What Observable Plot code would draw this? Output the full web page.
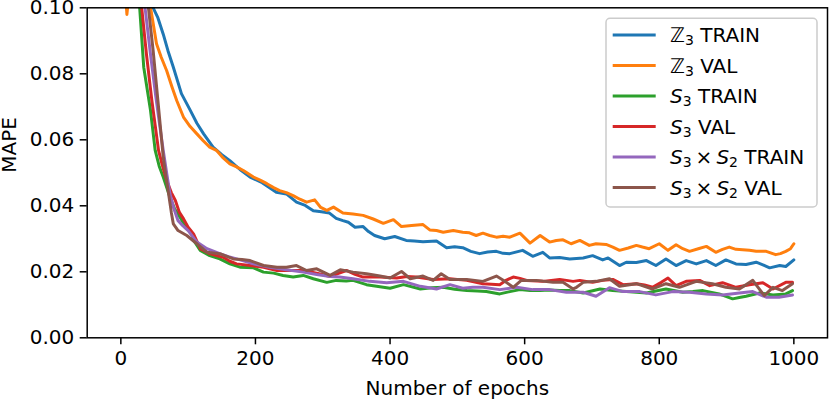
<!DOCTYPE html>
<html><head><meta charset="utf-8">
<script src="https://cdn.jsdelivr.net/npm/d3@7"></script>
<script src="https://cdn.jsdelivr.net/npm/@observablehq/plot@0.6"></script>
<style>body{margin:0;background:#fff;} svg{font-family:"DejaVu Sans";}</style>
</head><body><div id="chart"></div>
<script>
const seriesNames = ["Z3 TRAIN","Z3 VAL","S3 TRAIN","S3 VAL","S3xS2 TRAIN","S3xS2 VAL"];
const seriesColors = ["#1f77b4","#ff7f0e","#2ca02c","#d62728","#9467bd","#8c564b"];
const xTicks = [0,200,400,600,800,1000];
const yTicks = [0,0.02,0.04,0.06,0.08,0.10];

// [epoch, MAPE]
const z3Train = [[0,0.20],[20,0.16],[40,0.115],[48,0.100],[55,0.097],[63,0.092],[70,0.087],[78,0.082],[90,0.074],[103,0.069],[113,0.065],[123,0.0618],[137,0.0578],[150,0.0555],[162,0.0537],[177,0.051],[192,0.0487],[210,0.047],[231,0.0441],[246,0.0436],[261,0.0411],[274,0.0401],[286,0.0385],[298,0.0382],[310,0.0378],[320,0.0362],[330,0.0355],[338,0.035],[348,0.0335],[360,0.0337],[368,0.0322],[377,0.031],[392,0.0300],[407,0.0307],[424,0.0295],[436,0.0293],[449,0.0291],[469,0.0293],[484,0.0273],[496,0.0276],[508,0.0273],[520,0.0262],[533,0.0255],[545,0.0260],[558,0.0262],[568,0.0256],[578,0.0255],[597,0.0265],[612,0.0247],[627,0.0259],[637,0.0242],[652,0.0243],[667,0.0239],[687,0.0242],[701,0.0249],[716,0.0236],[724,0.0242],[741,0.0219],[751,0.0229],[766,0.0228],[781,0.0234],[795,0.0219],[810,0.0239],[825,0.0219],[840,0.0234],[855,0.0224],[870,0.0234],[884,0.0219],[899,0.0236],[914,0.0224],[929,0.0222],[944,0.0229],[955,0.0220],[964,0.0212],[979,0.0219],[988,0.0216],[1000,0.0236]];
const z3Val = [[0,0.13],[5,0.11],[9,0.098],[12,0.104],[20,0.112],[30,0.11],[40,0.103],[45,0.099],[53,0.0891],[60,0.085],[68,0.081],[76,0.076],[83,0.0719],[93,0.0669],[103,0.064],[113,0.0618],[122,0.0598],[132,0.0578],[142,0.0568],[152,0.0545],[162,0.0527],[172,0.0518],[182,0.0507],[197,0.0487],[207,0.0478],[217,0.0467],[227,0.0455],[236,0.0446],[246,0.0440],[256,0.0431],[266,0.0420],[276,0.0411],[288,0.0418],[297,0.0395],[306,0.0386],[316,0.0396],[330,0.0378],[345,0.0375],[360,0.0371],[375,0.036],[390,0.0347],[405,0.0358],[417,0.0337],[432,0.0340],[449,0.0343],[459,0.0327],[469,0.0325],[479,0.032],[494,0.0325],[508,0.032],[518,0.0318],[528,0.031],[538,0.0317],[548,0.0310],[558,0.0305],[568,0.0308],[578,0.0305],[593,0.0317],[608,0.0287],[623,0.031],[637,0.029],[647,0.0295],[657,0.0297],[669,0.0285],[682,0.0295],[696,0.028],[706,0.0285],[721,0.0283],[731,0.0275],[741,0.0265],[754,0.0272],[766,0.028],[775,0.0275],[785,0.027],[800,0.0285],[813,0.0265],[825,0.0282],[835,0.0270],[845,0.0262],[858,0.0270],[870,0.0277],[884,0.0259],[894,0.0268],[904,0.0275],[914,0.0268],[924,0.0267],[934,0.0265],[944,0.0262],[959,0.0262],[973,0.0252],[980,0.0255],[988,0.0262],[995,0.027],[1000,0.0285]];
const s3Train = [[0,0.25],[15,0.15],[28,0.100],[34,0.082],[44,0.069],[51,0.0568],[57,0.052],[63,0.0487],[73,0.0426],[80,0.039],[88,0.0365],[95,0.034],[103,0.0325],[110,0.029],[118,0.0265],[132,0.0249],[147,0.0239],[162,0.0224],[177,0.0214],[197,0.0212],[212,0.0199],[227,0.0196],[241,0.0189],[256,0.0184],[271,0.0189],[286,0.0179],[306,0.0168],[320,0.0174],[335,0.0172],[345,0.0174],[365,0.0161],[380,0.0156],[400,0.015],[420,0.0161],[445,0.0148],[462,0.0152],[479,0.0153],[496,0.0147],[514,0.0143],[530,0.0142],[543,0.014],[563,0.0133],[578,0.0140],[593,0.0146],[608,0.0143],[623,0.0143],[637,0.0145],[652,0.0143],[667,0.0143],[687,0.0136],[712,0.0148],[731,0.0143],[751,0.014],[766,0.0138],[781,0.0136],[795,0.0142],[810,0.0148],[835,0.0138],[850,0.0140],[865,0.0143],[889,0.0133],[909,0.0118],[919,0.0122],[929,0.0126],[949,0.0136],[969,0.013],[988,0.0133],[998,0.0143]];
const s3Val = [[0,0.25],[15,0.16],[31,0.100],[38,0.086],[46,0.072],[56,0.0568],[62,0.052],[68,0.0477],[75,0.044],[81,0.0416],[87,0.038],[93,0.0361],[100,0.0335],[108,0.0315],[118,0.027],[132,0.0255],[142,0.0249],[152,0.0244],[162,0.0232],[172,0.0224],[192,0.0219],[212,0.0214],[232,0.0204],[251,0.0204],[271,0.0204],[291,0.0196],[311,0.0186],[335,0.0204],[348,0.0192],[360,0.0184],[385,0.0184],[410,0.0181],[425,0.0186],[439,0.0184],[464,0.0177],[489,0.0179],[514,0.0174],[538,0.0164],[563,0.0161],[573,0.0175],[583,0.0184],[593,0.0180],[603,0.0174],[627,0.0171],[652,0.0177],[672,0.0171],[682,0.0174],[701,0.0168],[716,0.0174],[731,0.0177],[746,0.0161],[766,0.0164],[778,0.0160],[790,0.0153],[803,0.0168],[813,0.0181],[825,0.0158],[840,0.0171],[860,0.0174],[875,0.0158],[894,0.0167],[914,0.0153],[934,0.0161],[954,0.0167],[969,0.0148],[988,0.0168],[998,0.0168]];
const s3s2Train = [[0,0.25],[20,0.15],[36,0.100],[44,0.086],[52,0.073],[58,0.064],[63,0.0568],[68,0.050],[73,0.0436],[79,0.039],[85,0.0355],[92,0.034],[100,0.0325],[113,0.029],[128,0.027],[147,0.0255],[160,0.0246],[172,0.0239],[197,0.0224],[221,0.0214],[246,0.0206],[271,0.0199],[291,0.0192],[311,0.0186],[325,0.0184],[345,0.0179],[370,0.0171],[395,0.0167],[420,0.0171],[445,0.0156],[469,0.0148],[489,0.0161],[508,0.015],[523,0.0153],[538,0.0153],[563,0.0146],[588,0.0153],[612,0.0146],[637,0.0146],[662,0.0138],[687,0.0138],[706,0.0126],[726,0.0152],[746,0.014],[771,0.014],[795,0.013],[820,0.014],[845,0.0138],[870,0.0133],[894,0.013],[919,0.0136],[939,0.014],[959,0.0123],[978,0.0123],[998,0.013]];
const s3s2Val = [[0,0.25],[25,0.14],[41,0.100],[48,0.087],[55,0.072],[63,0.0547],[67,0.049],[71,0.0436],[75,0.038],[78,0.0345],[85,0.0325],[98,0.031],[113,0.0285],[128,0.0259],[147,0.0255],[167,0.0239],[180,0.0237],[192,0.0234],[212,0.0219],[232,0.0214],[246,0.0214],[261,0.0219],[276,0.0204],[291,0.0209],[311,0.0189],[326,0.0206],[345,0.0199],[365,0.0194],[385,0.0187],[400,0.0181],[417,0.0201],[430,0.0179],[449,0.0187],[464,0.0174],[476,0.0194],[489,0.0177],[514,0.0177],[538,0.0171],[558,0.0187],[570,0.0172],[583,0.0153],[595,0.0174],[617,0.0174],[642,0.0168],[657,0.0168],[672,0.0148],[677,0.0153],[687,0.0168],[706,0.0171],[726,0.0179],[741,0.0156],[766,0.0164],[790,0.0148],[810,0.0164],[830,0.0153],[855,0.0171],[879,0.0164],[899,0.0153],[919,0.0148],[939,0.0174],[956,0.0128],[969,0.0153],[983,0.0143],[998,0.0164]];

// legend labels: [text, kind] segments; kind: "" normal, "it" italic, "sub" subscript
const legendLabels = [
  [["ℤ",""],["3","sub"],[" TRAIN",""]],
  [["ℤ",""],["3","sub"],[" VAL",""]],
  [["S","it"],["3","sub"],[" TRAIN",""]],
  [["S","it"],["3","sub"],[" VAL",""]],
  [["S","it"],["3","sub"],["\u2009×\u2009",""],["S","it"],["2","sub"],[" TRAIN",""]],
  [["S","it"],["3","sub"],["\u2009×\u2009",""],["S","it"],["2","sub"],[" VAL",""]]
];

const seriesData = [z3Train, z3Val, s3Train, s3Val, s3s2Train, s3s2Val];
const rows = [];
seriesData.forEach((arr, i) => arr.forEach(([epoch, mape]) => rows.push({series: seriesNames[i], epoch, mape})));

const FS = 20;
const chart = Plot.plot({
  width: 830, height: 401,
  marginLeft: 86.7, marginRight: 3, marginTop: 7.3, marginBottom: 63.7,
  style: {fontFamily: "DejaVu Sans", fontSize: FS + "px", color: "black", background: "white", overflow: "visible"},
  x: {domain: [-50, 1050]},
  y: {domain: [0, 0.1]},
  color: {domain: seriesNames, range: seriesColors},
  marks: [
    Plot.line(rows, {x: "epoch", y: "mape", z: "series", stroke: "series", strokeWidth: 3, clip: true, strokeLinejoin: "round"}),
    Plot.frame({stroke: "black", strokeWidth: 1.5}),
    Plot.axisX({ticks: xTicks, tickFormat: d3.format("d"), tickSize: 7, tickPadding: 6, fontSize: FS, strokeWidth: 1.5, label: null}),
    Plot.axisY({ticks: yTicks, tickFormat: d3.format(".2f"), tickSize: 7, tickPadding: 6, fontSize: FS, strokeWidth: 1.5, label: null}),
    Plot.text(["Number of epochs"], {text: d => d, frameAnchor: "bottom", dy: 57, lineAnchor: "bottom", fontSize: FS}),
    Plot.text(["MAPE"], {text: d => d, frameAnchor: "left", dx: -71, rotate: -90, lineAnchor: "bottom", fontSize: FS})
  ]
});
document.getElementById("chart").appendChild(chart);

// legend
const svg = d3.select(chart);
const lg = svg.append("g").attr("text-anchor", "start");
lg.append("rect").attr("x", 606).attr("y", 18.3).attr("width", 211).attr("height", 188.7).attr("rx", 4)
  .attr("fill", "white").attr("fill-opacity", 0.8).attr("stroke", "#cccccc").attr("stroke-width", 1.5);
legendLabels.forEach((parts, i) => {
  const ly = 35 + i * 30.5;
  lg.append("line").attr("x1", 612.7).attr("x2", 655.7).attr("y1", ly).attr("y2", ly)
    .attr("stroke", seriesColors[i]).attr("stroke-width", 3);
  const t = lg.append("text").attr("x", 670).attr("y", ly + 7).attr("font-size", FS)
    .attr("fill", "black").attr("text-anchor", "start");
  let shifted = false;
  parts.forEach(([s, kind]) => {
    const ts = t.append("tspan").text(s);
    if (kind === "it") ts.attr("font-style", "italic");
    if (kind === "sub") { ts.attr("font-size", 14).attr("dy", 3); shifted = true; }
    else if (shifted) { ts.attr("dy", -3); shifted = false; }
  });
});
</script></body></html>
